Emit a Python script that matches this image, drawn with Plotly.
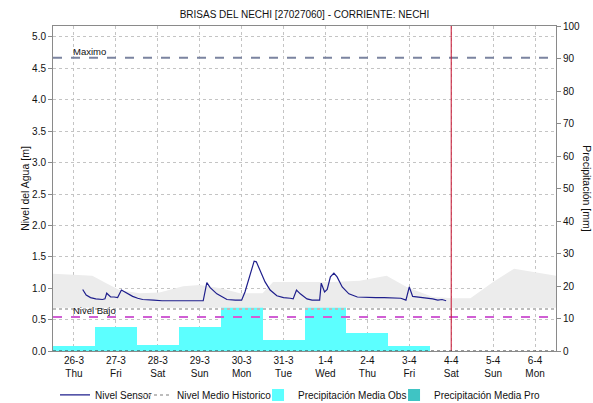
import plotly.graph_objects as go

TITLE = "BRISAS DEL NECHI [27027060] - CORRIENTE: NECHI"

# Day ticks along the time axis
day_ticks = ["2015-03-26", "2015-03-27", "2015-03-28", "2015-03-29", "2015-03-30",
             "2015-03-31", "2015-04-01", "2015-04-02", "2015-04-03", "2015-04-04",
             "2015-04-05", "2015-04-06"]
day_labels = ["26-3<br>Thu", "27-3<br>Fri", "28-3<br>Sat", "29-3<br>Sun", "30-3<br>Mon",
              "31-3<br>Tue", "1-4<br>Wed", "2-4<br>Thu", "3-4<br>Fri", "4-4<br>Sat",
              "5-4<br>Sun", "6-4<br>Mon"]

# Daily observed precipitation (mm)
precip_days = ["2015-03-26", "2015-03-27", "2015-03-28", "2015-03-29", "2015-03-30",
               "2015-03-31", "2015-04-01", "2015-04-02", "2015-04-03"]
precip_obs = [1.5, 7.4, 2.0, 7.4, 13.5, 3.5, 14.3, 5.5, 1.5]

# Sensor water level (m)
sensor_time = [
    "2015-03-26 05:00", "2015-03-26 07:00", "2015-03-26 09:30", "2015-03-26 12:30",
    "2015-03-26 16:20", "2015-03-26 17:45", "2015-03-26 18:45", "2015-03-26 20:00",
    "2015-03-26 21:00", "2015-03-26 23:00", "2015-03-27 01:00", "2015-03-27 03:10",
    "2015-03-27 05:45", "2015-03-27 09:35", "2015-03-27 12:30", "2015-03-27 15:20",
    "2015-03-27 21:35", "2015-03-28 02:25", "2015-03-28 09:35", "2015-03-28 14:25",
    "2015-03-28 19:10", "2015-03-28 22:50", "2015-03-29 02:00", "2015-03-29 04:05",
    "2015-03-29 06:00", "2015-03-29 09:50", "2015-03-29 13:10", "2015-03-29 15:35",
    "2015-03-29 20:25", "2015-03-30 00:00", "2015-03-30 01:55", "2015-03-30 04:50",
    "2015-03-30 07:10", "2015-03-30 08:25", "2015-03-30 10:35", "2015-03-30 13:25",
    "2015-03-30 16:20", "2015-03-30 20:10", "2015-03-31 00:00", "2015-03-31 02:25",
    "2015-03-31 03:50", "2015-03-31 05:30", "2015-03-31 07:25", "2015-03-31 09:35",
    "2015-03-31 13:25", "2015-03-31 16:20", "2015-03-31 20:40", "2015-03-31 21:35",
    "2015-03-31 23:30", "2015-04-01 01:00", "2015-04-01 02:50", "2015-04-01 04:50",
    "2015-04-01 06:40", "2015-04-01 09:35", "2015-04-01 13:25", "2015-04-01 18:15",
    "2015-04-02 00:00", "2015-04-02 04:50", "2015-04-02 09:35", "2015-04-02 14:25",
    "2015-04-02 19:10", "2015-04-02 22:05", "2015-04-03 00:00", "2015-04-03 01:55",
    "2015-04-03 06:00", "2015-04-03 09:35", "2015-04-03 13:25", "2015-04-03 16:20",
    "2015-04-03 18:45", "2015-04-03 21:05",
]
sensor_level = [
    0.98, 0.89, 0.85, 0.83, 0.82, 0.83, 0.92, 0.88,
    0.86, 0.86, 0.85, 0.97, 0.93, 0.87, 0.84, 0.82,
    0.81, 0.80, 0.80, 0.80, 0.81, 0.80, 0.80, 1.09,
    1.01, 0.91, 0.85, 0.82, 0.81, 0.81, 0.94, 1.23,
    1.43, 1.42, 1.28, 1.10, 0.97, 0.88, 0.85, 0.85,
    0.84, 0.83, 0.97, 0.91, 0.83, 0.81, 0.81, 1.08,
    0.94, 0.98, 1.18, 1.24, 1.18, 1.02, 0.91, 0.86,
    0.85, 0.85, 0.85, 0.84, 0.84, 0.81, 1.02, 0.87,
    0.86, 0.84, 0.83, 0.81, 0.82, 0.80,
]

# Historical band and mean level (m)
hist_time = [
    "2015-03-25 12:00", "2015-03-26 10:30", "2015-03-26 18:30", "2015-03-27 02:00",
    "2015-03-27 13:30", "2015-03-28 01:00", "2015-03-28 14:30", "2015-03-29 00:00",
    "2015-03-29 12:00", "2015-03-29 23:00", "2015-03-30 12:00", "2015-03-30 18:00",
    "2015-03-31 15:00", "2015-04-01 04:30", "2015-04-01 19:40", "2015-04-02 11:00",
    "2015-04-02 22:30", "2015-04-03 13:30", "2015-04-04 01:00", "2015-04-04 11:00",
    "2015-04-05 00:00", "2015-04-05 12:00", "2015-04-06 12:00",
]
hist_upper = [1.23, 1.20, 1.08, 0.97, 0.92, 0.93, 1.03, 1.05, 1.00, 0.92, 0.92, 1.10,
              1.10, 1.10, 1.12, 1.20, 1.02, 0.86, 0.84, 0.84, 1.10, 1.31, 1.20]
hist_lower = [0.69, 0.69, 0.69, 0.69, 0.69, 0.69, 0.69, 0.69, 0.69, 0.69, 0.69, 0.69,
              0.69, 0.69, 0.69, 0.69, 0.69, 0.69, 0.69, 0.69, 0.69, 0.69, 0.69]
hist_mean = [0.67, 0.67, 0.67, 0.67, 0.67, 0.67, 0.67, 0.67, 0.67, 0.67, 0.67, 0.67,
             0.67, 0.67, 0.67, 0.67, 0.67, 0.67, 0.67, 0.67, 0.67, 0.67, 0.67]

# Reference levels (m) and current time marker
MAXIMO = 4.67
NIVEL_BAJO = 0.54
NOW = "2015-04-04 00:00"

X_RANGE = ["2015-03-25 12:00", "2015-04-06 12:00"]
Y_RANGE = [0, 5.175]
Y2_RANGE = [0, 100]
DAY_MS = 86400000

FONT = "Liberation Sans, Arial, sans-serif"
CYAN = "#5CFFFF"
TEAL = "#3FC4C4"
NAVY = "#1E1E8C"
GRID = "#C4C4C4"
AXIS = "#8A8A8A"
TEXT = "#111"

fig = go.Figure()

# Precipitation bars on the right axis
fig.add_trace(go.Bar(
    x=precip_days, y=precip_obs, width=DAY_MS, yaxis="y2",
    marker=dict(color=CYAN, line=dict(width=0)),
    name="Precipitación Media Obs", legend="legend3",
))
fig.add_trace(go.Bar(
    x=[None], y=[None], yaxis="y2",
    marker=dict(color=TEAL, line=dict(width=0)),
    name="Precipitación Media Pro", legend="legend4",
))

# Historical band
fig.add_trace(go.Scatter(
    x=hist_time, y=hist_lower, mode="lines", line=dict(width=0),
    showlegend=False, hoverinfo="skip",
))
fig.add_trace(go.Scatter(
    x=hist_time, y=hist_upper, mode="lines", line=dict(width=0),
    fill="tonexty", fillcolor="#ECECEC", showlegend=False, hoverinfo="skip",
))

# Historical mean level
fig.add_trace(go.Scatter(
    x=hist_time, y=hist_mean, mode="lines",
    line=dict(color="#BDBDBD", width=2, dash="dot"),
    name="Nivel Medio Historico", legend="legend2",
))

# Sensor level
fig.add_trace(go.Scatter(
    x=sensor_time, y=sensor_level, mode="lines",
    line=dict(color=NAVY, width=1.2),
    name="Nivel Sensor", legend="legend",
))

# Threshold lines
fig.add_hline(y=MAXIMO, line=dict(color="#7B84A0", width=2, dash="dash"), layer="above")
fig.add_hline(y=NIVEL_BAJO, line=dict(color="#D05ED4", width=2, dash="dash"), layer="above")
fig.add_annotation(x=day_ticks[0], y=MAXIMO, xref="x", yref="y", text="Maximo",
                   showarrow=False, xanchor="left", yanchor="bottom", xshift=-3, yshift=-1,
                   font=dict(family=FONT, size=9.5, color=TEXT))
fig.add_annotation(x=day_ticks[0], y=NIVEL_BAJO, xref="x", yref="y", text="Nivel Bajo",
                   showarrow=False, xanchor="left", yanchor="bottom", xshift=-3, yshift=-1,
                   font=dict(family=FONT, size=9.5, color=TEXT))

# Current time marker
fig.add_vline(x=NOW, line=dict(color="#C8102E", width=1), layer="above")

# Dotted baseline
fig.add_shape(type="line", xref="paper", yref="y", x0=0, x1=1, y0=0, y1=0,
              line=dict(color="#333", width=1, dash="dot"), layer="above")

# Axis titles
fig.add_annotation(x=-0.057, y=0.5, xref="paper", yref="paper", text="Nivel del Agua [m]",
                   textangle=-90, showarrow=False, xanchor="center", yanchor="middle",
                   font=dict(family=FONT, size=10.5, color=TEXT))
fig.add_annotation(x=1.062, y=0.5, xref="paper", yref="paper", text="Precipitación [mm]",
                   textangle=90, showarrow=False, xanchor="center", yanchor="middle",
                   font=dict(family=FONT, size=10.5, color=TEXT))

# One legend box per entry so each sits in its own slot along the bottom row
LEGEND_Y = -0.135
legend_common = dict(orientation="h", xanchor="left", y=LEGEND_Y, yanchor="middle",
                     font=dict(family=FONT, size=10, color=TEXT),
                     itemwidth=30, bgcolor="rgba(0,0,0,0)", borderwidth=0)

tick_font = dict(family=FONT, size=10, color=TEXT)

fig.update_layout(
    width=593, height=403,
    margin=dict(l=53, r=37, t=26, b=52, autoexpand=False),
    paper_bgcolor="white", plot_bgcolor="white",
    font=dict(family=FONT, size=10, color=TEXT),
    title=dict(text=TITLE, x=0.5, xref="paper", xanchor="center", y=0.965, yanchor="middle",
               font=dict(family=FONT, size=10, color=TEXT)),
    bargap=0,
    showlegend=True,
    legend=dict(x=0.004, **legend_common),
    legend2=dict(x=0.167, **legend_common),
    legend3=dict(x=0.4076, **legend_common),
    legend4=dict(x=0.678, **legend_common),
    xaxis=dict(
        type="date", range=X_RANGE,
        tickvals=day_ticks, ticktext=day_labels, ticks="",
        showgrid=True, gridcolor=GRID, griddash="dot", gridwidth=1,
        showline=True, linecolor=AXIS, linewidth=1, mirror=True,
        tickfont=tick_font,
        zeroline=False,
    ),
    yaxis=dict(
        range=Y_RANGE, overlaying="y2", side="left",
        tick0=0, dtick=0.5, tickformat=".1f",
        ticks="outside", ticklen=4, tickcolor=AXIS,
        showgrid=True, gridcolor=GRID, griddash="dot", gridwidth=1,
        showline=True, linecolor=AXIS, linewidth=1,
        zeroline=False,
        tickfont=tick_font,
    ),
    yaxis2=dict(
        range=Y2_RANGE, side="right",
        tick0=0, dtick=10,
        ticks="outside", ticklen=4, tickcolor=AXIS,
        showgrid=False, showline=True, linecolor=AXIS, linewidth=1,
        zeroline=False,
        tickfont=tick_font,
    ),
)

fig.write_html("out.html")
